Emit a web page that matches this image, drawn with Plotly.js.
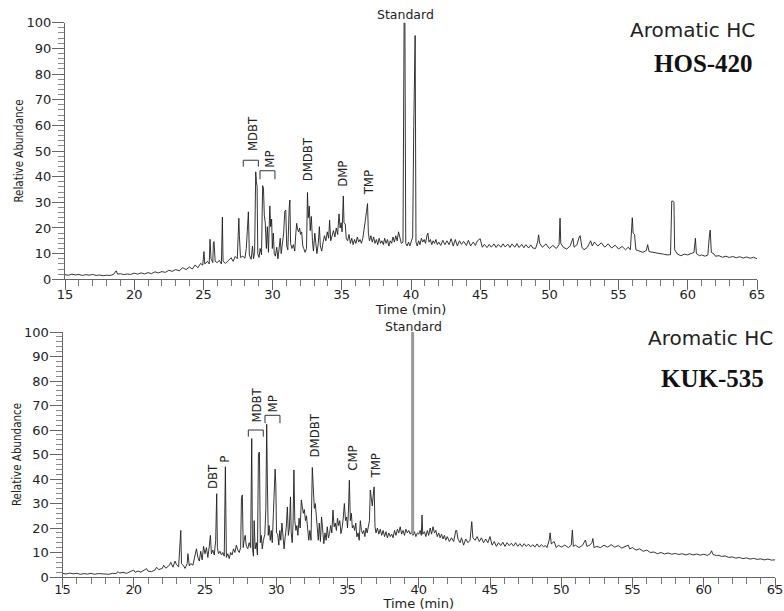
<!DOCTYPE html>
<html><head><meta charset="utf-8">
<script src="https://cdn.plot.ly/plotly-3.0.1.min.js"></script>
<style>html,body{margin:0;padding:0;background:#fff}#chart{width:784px;height:611px}</style>
</head><body><div id="chart"></div>
<script>
// ---------- DATA ----------
// Top chromatogram (HOS-420): [time (min), relative abundance]
const chromTop = [
[15.0,1.8],[15.25,1.6],[15.5,2.0],[15.75,1.7],[16.0,1.9],[16.25,1.5],[16.5,1.8],[16.75,1.6],[17.0,1.9],[17.25,1.5],
[17.5,1.7],[17.75,1.4],[18.0,1.6],[18.25,1.5],[18.5,1.9],[18.7,3.3],[18.8,2.0],[19.0,2.2],[19.25,1.8],[19.5,2.1],
[19.75,1.9],[20.0,2.4],[20.25,2.0],[20.5,2.5],[20.75,2.1],[21.0,2.6],[21.25,2.2],[21.5,2.9],[21.75,2.5],[22.0,3.0],
[22.25,2.7],[22.5,3.5],[22.75,3.1],[23.0,3.8],[23.25,3.3],[23.5,4.5],[23.75,3.8],[24.0,4.8],[24.2,4.0],[24.4,5.6],
[24.6,4.5],[24.8,6.2],[24.95,5.5],[25.04,10.8],[25.1,6.0],[25.3,7.0],[25.42,6.0],[25.48,15.6],[25.55,8],[25.68,6.5],
[25.72,14.2],[25.77,14.7],[25.85,7.0],[26.0,6.5],[26.15,7.4],[26.3,6.0],[26.37,24.2],[26.42,7.0],[26.6,6.2],[26.8,7.5],
[27.0,8.4],[27.15,7.0],[27.3,8.9],[27.45,8.0],[27.56,23.8],[27.6,17],[27.68,8.5],[27.85,9.0],[28.0,8.2],[28.1,12.0],
[28.18,20],[28.25,26.3],[28.32,9.5],[28.45,7.8],[28.55,13],[28.62,8.0],[28.7,10.5],[28.78,41.9],[28.83,38],[28.88,36],
[28.93,10],[29.02,8.5],[29.1,12],[29.2,9.5],[29.28,36.5],[29.34,35.5],[29.4,25],[29.47,22],[29.55,12],[29.62,20.5],
[29.7,10.5],[29.8,28.6],[29.86,20.5],[29.93,23.5],[29.98,12],[30.05,18],[30.12,10],[30.2,9],[30.3,12.5],[30.38,8],
[30.45,11],[30.55,16],[30.62,10],[30.7,13],[30.8,18],[30.88,26.5],[30.95,27.0],[31.02,13],[31.1,11.5],[31.2,28],
[31.25,30.9],[31.3,14],[31.4,12],[31.5,13.5],[31.6,11],[31.68,18],[31.74,21.8],[31.8,19.5],[31.88,18.5],[31.95,20],
[32.02,17.5],[32.1,18.5],[32.18,13],[32.25,12],[32.35,10.5],[32.45,12],[32.52,33.8],[32.58,24],[32.65,28.5],[32.72,19],
[32.8,24.5],[32.88,15],[32.95,11],[33.05,18],[33.12,12.5],[33.2,10],[33.3,14],[33.38,20.5],[33.45,13],[33.55,11],
[33.65,14.5],[33.75,17],[33.85,15],[33.95,18.5],[34.05,16],[34.12,23],[34.2,15],[34.3,17.5],[34.4,19],[34.5,16.5],
[34.6,20],[34.7,17.5],[34.8,25.5],[34.88,20],[34.95,22],[35.02,18.5],[35.11,32.5],[35.16,22],[35.25,21.5],[35.32,16],
[35.42,15],[35.52,17.5],[35.62,14],[35.72,16],[35.82,13.5],[35.92,15.5],[36.02,14],[36.12,16.5],[36.22,14.5],[36.32,15.5],
[36.42,14],[36.52,16],[36.62,19],[36.7,23],[36.78,26.3],[36.86,29.5],[36.92,18],[37.0,15],[37.1,17],[37.2,14.5],
[37.3,16.5],[37.4,14],[37.5,15.5],[37.6,13.5],[37.7,16],[37.8,14],[37.9,15],[38.0,13.5],[38.1,16],[38.2,14],
[38.3,15.5],[38.4,13],[38.5,15],[38.6,14],[38.7,16.5],[38.8,14.5],[38.9,17],[39.0,15],[39.1,18.5],[39.2,16],
[39.3,14],[39.42,14.5],[39.5,100],[39.56,100],[39.62,14],[39.72,13],[39.82,14.5],[39.92,13],[40.02,15],[40.12,16.5],
[40.2,60],[40.25,95],[40.3,95],[40.36,14.5],[40.45,13],[40.55,15],[40.65,13.5],[40.75,16],[40.85,14.5],[40.95,15.5],
[41.05,14],[41.15,17],[41.22,18],[41.3,14.5],[41.4,15.5],[41.5,13.5],[41.6,15],[41.7,14],[41.8,15.5],[41.9,13.5],
[42.0,14.5],[42.15,13.2],[42.3,15.2],[42.45,13.5],[42.6,15],[42.75,13.5],[42.9,15.8],[43.05,13],[43.2,15.5],[43.35,13],
[43.5,15],[43.65,13.6],[43.8,14.8],[44.0,13.2],[44.15,15.2],[44.3,13],[44.5,14.5],[44.65,13.2],[44.8,15],[45.0,15.8],
[45.15,12.5],[45.3,13.6],[45.5,12.4],[45.65,13.6],[45.8,12.5],[46.0,13.8],[46.15,12.4],[46.3,13.6],[46.5,12.5],[46.65,13.8],
[46.8,12.6],[47.0,13.7],[47.15,12.4],[47.3,13.8],[47.5,12.5],[47.65,13.9],[47.8,12.4],[48.0,13.6],[48.15,12.3],[48.3,13.5],
[48.5,12.2],[48.65,13.4],[48.8,12.2],[49.0,12.0],[49.15,14.5],[49.22,17.3],[49.3,14.0],[49.5,12.5],[49.75,13.8],[50.0,12.0],
[50.25,13.2],[50.5,12.0],[50.7,13.5],[50.77,23.8],[50.82,14],[51.0,12.5],[51.25,11.8],[51.5,13],[51.7,16],[51.78,12.5],
[52.0,13.5],[52.15,16.5],[52.22,17],[52.35,12.5],[52.5,11.5],[52.75,12.5],[52.98,15],[53.1,13],[53.25,14.5],[53.5,13],
[53.75,14.2],[54.0,12.5],[54.25,13.8],[54.5,12.2],[54.75,13.3],[55.0,11.8],[55.25,12.8],[55.5,11.5],[55.7,12.5],[55.85,11.5],
[55.99,24],[56.05,18],[56.15,17.5],[56.25,11.5],[56.5,11.0],[56.75,10.5],[57.0,11.2],[57.1,13.5],[57.2,10.8],[57.5,10.6],
[57.75,10.2],[58.0,10.0],[58.25,9.8],[58.5,9.5],[58.75,9.6],[58.84,30.5],[58.92,30.5],[59.0,30],[59.05,11.5],[59.25,9.8],
[59.5,9.2],[59.75,9.8],[60.0,9.5],[60.25,10],[60.45,10.5],[60.55,16],[60.62,10],[60.85,9.2],[61.0,9.5],[61.25,9.0],
[61.45,9.5],[61.55,16.5],[61.62,19.2],[61.7,10.5],[61.9,9.8],[62.0,9.0],[62.25,9.2],[62.5,8.6],[62.75,9.0],[63.0,8.5],
[63.25,8.9],[63.5,8.4],[63.75,8.8],[64.0,8.3],[64.25,8.7],[64.5,8.2],[64.75,8.6],[65.0,8.0]
];

// Bottom chromatogram (KUK-535): [time (min), relative abundance]
const chromBot = [
[15.0,1.5],[15.25,1.2],[15.5,1.6],[15.75,1.3],[16.0,1.5],[16.25,1.1],[16.5,1.4],[16.75,1.2],[17.0,1.5],[17.25,1.1],
[17.5,1.4],[17.75,1.2],[18.0,1.3],[18.25,1.1],[18.5,1.5],[18.75,1.4],[18.9,2.2],[19.0,1.6],[19.25,1.9],[19.5,1.5],
[19.75,2.2],[20.0,2.8],[20.1,1.9],[20.3,2.4],[20.5,2.0],[20.75,2.8],[20.9,3.4],[21.0,2.4],[21.25,2.2],[21.5,2.9],
[21.6,4.0],[21.75,3.0],[22.0,3.5],[22.1,4.8],[22.25,3.6],[22.5,4.8],[22.6,6.0],[22.75,4.0],[22.9,6.5],[23.0,5.0],
[23.15,4.2],[23.3,19],[23.35,5.5],[23.5,4.5],[23.6,3.5],[23.75,5.5],[23.8,9.5],[23.9,4.5],[24.0,5.5],[24.15,4.8],
[24.3,8.5],[24.4,11.5],[24.5,8.0],[24.6,6.5],[24.7,10.5],[24.8,7.0],[24.9,12.5],[25.0,9.5],[25.1,12.0],[25.2,8.0],
[25.3,12.5],[25.38,17],[25.45,9.5],[25.55,11],[25.65,9],[25.75,15],[25.82,34],[25.87,12],[25.95,9.5],[26.05,10.5],
[26.15,9],[26.25,10],[26.35,8.5],[26.43,45],[26.5,8],[26.6,9.5],[26.7,7.5],[26.8,10],[26.9,9],[27.0,11.5],
[27.1,10],[27.2,13],[27.3,11],[27.4,10],[27.5,12],[27.56,32.5],[27.62,33.5],[27.68,12],[27.75,15],[27.82,17],
[27.9,12.5],[28.0,11.5],[28.1,14],[28.2,12],[28.28,56.5],[28.33,12],[28.4,8.5],[28.45,23],[28.52,11.5],[28.6,14],
[28.68,9],[28.75,50.5],[28.82,51],[28.88,14],[28.95,17],[29.02,11.5],[29.1,15],[29.2,17.5],[29.27,28],[29.33,62.3],
[29.38,38],[29.44,17],[29.5,21],[29.58,15],[29.65,19],[29.72,14],[29.8,26],[29.87,41],[29.92,44],[29.97,37.5],
[30.02,18],[30.1,17.5],[30.18,13],[30.25,19],[30.32,15],[30.4,22],[30.48,14],[30.55,11.5],[30.62,16],[30.7,20],
[30.78,28.6],[30.85,17],[30.92,20],[31.0,32.7],[31.05,18],[31.12,14],[31.18,22],[31.24,43.7],[31.3,23],[31.38,19],
[31.45,21],[31.52,17],[31.6,24],[31.68,20],[31.76,31.4],[31.82,29],[31.9,26],[31.97,27.5],[32.05,23],[32.12,25],
[32.2,18],[32.28,15],[32.36,19],[32.44,15],[32.53,44.7],[32.6,36.8],[32.67,28],[32.74,30],[32.8,26],[32.88,19],
[32.95,15],[33.02,22],[33.1,14.5],[33.18,24.5],[33.26,17],[33.34,13.6],[33.42,18],[33.5,15],[33.58,20.5],[33.66,16],
[33.74,17.7],[33.82,21],[33.9,18],[33.98,27.3],[34.06,20.5],[34.14,22],[34.22,19],[34.3,24],[34.38,21],[34.46,23],
[34.54,17.7],[34.62,20],[34.7,24],[34.78,30],[34.86,23],[34.94,24.5],[35.0,20],[35.06,26],[35.13,39.5],[35.2,23],
[35.27,26],[35.34,20],[35.42,21],[35.5,19],[35.58,22],[35.66,16.4],[35.74,18],[35.82,15],[35.9,23],[35.98,19],
[36.06,17.7],[36.14,19],[36.22,16.5],[36.3,20],[36.38,18],[36.46,20],[36.54,23],[36.6,35.5],[36.68,31.4],[36.74,29],
[36.8,33],[36.87,36.8],[36.93,20.5],[37.0,18],[37.1,20],[37.2,17.5],[37.3,19.5],[37.4,17],[37.5,19],[37.6,16.5],
[37.7,18.5],[37.8,16],[37.9,18],[38.0,16.5],[38.1,17.5],[38.2,16],[38.3,19],[38.4,17],[38.5,19.5],[38.6,18],
[38.7,20.5],[38.8,17.5],[38.9,19],[39.0,17],[39.1,19.5],[39.2,18],[39.3,19],[39.4,17.5],[39.5,18.5],[39.6,17],
[39.7,18.5],[39.8,16.5],[39.9,18],[40.0,17.5],[40.1,19],[40.18,17],[40.23,25.3],[40.28,17.5],[40.4,18.5],[40.5,16.5],
[40.6,19],[40.7,17],[40.8,20],[40.9,17.5],[41.0,20.5],[41.1,18],[41.2,19],[41.3,16.5],[41.4,18],[41.5,16],
[41.6,17.5],[41.7,15.5],[41.8,17],[41.9,15],[42.0,16.5],[42.15,14.5],[42.3,16],[42.45,14.5],[42.6,19],[42.66,19],
[42.75,15.5],[42.9,14],[43.0,16],[43.15,13],[43.3,15.5],[43.45,14],[43.6,15],[43.72,22.6],[43.8,16],[43.95,15],
[44.1,16.5],[44.25,14.5],[44.4,16],[44.55,14],[44.7,15.5],[44.85,14],[45.0,16.5],[45.15,13],[45.3,14.5],[45.45,12.5],
[45.6,14],[45.75,12.8],[45.9,14.2],[46.05,12.5],[46.2,14],[46.35,12.8],[46.5,13.8],[46.65,12.6],[46.8,14],[46.95,12.5],
[47.1,13.6],[47.25,12.4],[47.4,13.6],[47.55,12.5],[47.7,13.4],[47.85,12.3],[48.0,13.2],[48.15,12.2],[48.3,13.5],[48.45,12.2],
[48.6,13.2],[48.75,12.4],[48.9,12.8],[49.0,12.0],[49.15,15],[49.22,18],[49.3,13.5],[49.5,14.5],[49.65,12.0],[49.8,13],
[50.0,12.2],[50.25,13],[50.5,12],[50.7,13],[50.78,19.2],[50.85,12.5],[51.0,13],[51.25,12],[51.5,13],[51.7,15.1],
[51.8,12.5],[52.0,13],[52.15,14],[52.22,15.7],[52.3,12],[52.5,12.5],[52.75,12],[53.0,13],[53.25,12.2],[53.5,13.2],
[53.75,12.2],[54.0,12.8],[54.25,11.8],[54.5,12.5],[54.7,13],[54.8,11.5],[55.0,12],[55.25,11],[55.5,11.5],[55.75,10.5],
[56.0,11],[56.25,10],[56.5,10.2],[56.75,9.5],[57.0,10],[57.25,9.4],[57.5,9.8],[57.75,9.3],[58.0,9.6],[58.25,9.2],
[58.5,9.5],[58.75,9.0],[59.0,9.5],[59.25,9.0],[59.5,9.4],[59.75,8.9],[60.0,9.3],[60.25,8.8],[60.45,9.5],[60.55,10.7],
[60.65,9.2],[60.9,8.7],[61.0,8.9],[61.25,8.4],[61.5,8.6],[61.75,8.0],[62.0,8.2],[62.25,7.7],[62.5,8.0],[62.75,7.5],
[63.0,7.8],[63.25,7.3],[63.5,7.6],[63.75,7.2],[64.0,7.4],[64.25,7.0],[64.5,7.3],[64.75,6.9],[65.0,7.0]
];

// Internal standard peak of bottom run (drawn as a grey bar)
const stdBotTime = [39.57, 39.57];
const stdBotAbund = [17.5, 100];

// Peak labels
const topLabels = ['MDBT', 'MP', 'DMDBT', 'DMP', 'TMP'];
const topLabelTime = [28.55, 29.81, 32.52, 35.06, 36.9];
const topLabelAbund = [49.6, 43.3, 38.0, 35.5, 32.2];
const botLabels = ['DBT', 'P', 'MDBT', 'MP', 'DMDBT', 'CMP', 'TMP'];
const botLabelTime = [25.53, 26.4, 28.63, 29.74, 32.65, 35.35, 36.93];
const botLabelAbund = [35.5, 46.4, 62.7, 66.8, 48.4, 43.0, 39.6];

// Brackets: [t start, t end, top abundance, leg-end abundance]
const topBrackets = [[27.88, 28.97, 46.4, 43.9], [29.09, 30.17, 42.3, 39.0]];
const botBrackets = [[28.04, 29.09, 60.0, 57.3], [29.21, 30.26, 66.0, 62.8]];

const stdLabel = 'Standard';
const xTickVals = [15, 20, 25, 30, 35, 40, 45, 50, 55, 60, 65];
const yTickVals = [0, 10, 20, 30, 40, 50, 60, 70, 80, 90, 100];

// ---------- LAYOUT HELPERS ----------
const W = 784, H = 611;
const xdom = (a, b) => [a / W, b / W];
const ydom = (top, bottom) => [1 - bottom / H, 1 - top / H];
const px = (x) => x / W;
const py = (y) => 1 - y / H;

const tickFont = {family: 'DejaVu Sans, Arial, sans-serif', size: 13, color: '#222'};
const narrowFont = {family: 'DejaVu Sans Condensed, Arial Narrow, sans-serif', size: 13, color: '#222'};
const titleYFont = {family: 'DejaVu Sans Condensed, Arial Narrow, sans-serif', size: 11.5, color: '#222'};

function xAxis(dom, anchor, lblOff) {
  return {
    domain: dom, anchor: anchor, range: [15, 65], tickvals: xTickVals,
    showgrid: false, zeroline: false, showline: true, linecolor: '#666', linewidth: 1,
    ticks: 'outside', ticklen: 10, tickcolor: '#666', tickfont: tickFont, ticklabelstandoff: lblOff,
    minor: {dtick: 1, ticks: 'outside', ticklen: 6, tickcolor: '#777', showgrid: false},
    title: {text: 'Time (min)', font: tickFont, standoff: 0}
  };
}
function yAxis(dom, anchor) {
  return {
    domain: dom, anchor: anchor, range: [0, 100], tickvals: yTickVals,
    showgrid: false, zeroline: false, showline: true, linecolor: '#666', linewidth: 1,
    ticks: 'outside', ticklen: 12, tickcolor: '#666', tickfont: tickFont, ticklabelstandoff: -2,
    minor: {dtick: 2, ticks: 'outside', ticklen: 6, tickcolor: '#888', showgrid: false},
    title: {text: 'Relative Abundance', font: titleYFont, standoff: 0}
  };
}

const traces = [
  {x: chromTop.map(p => p[0]), y: chromTop.map(p => p[1]), xaxis: 'x', yaxis: 'y',
   type: 'scatter', mode: 'lines', line: {color: '#1e1e1e', width: 0.9}, hoverinfo: 'skip'},
  {x: chromBot.map(p => p[0]), y: chromBot.map(p => p[1]), xaxis: 'x2', yaxis: 'y2',
   type: 'scatter', mode: 'lines', line: {color: '#1e1e1e', width: 0.9}, hoverinfo: 'skip'},
  {x: stdBotTime, y: stdBotAbund, xaxis: 'x2', yaxis: 'y2',
   type: 'scatter', mode: 'lines', line: {color: '#9a9a9a', width: 3}, hoverinfo: 'skip'}
];

const annotations = [];
topLabels.forEach((t, i) => annotations.push({text: t, x: topLabelTime[i], y: topLabelAbund[i], xref: 'x', yref: 'y',
  textangle: -90, xanchor: 'center', yanchor: 'bottom', showarrow: false, font: narrowFont, borderpad: 0}));
botLabels.forEach((t, i) => annotations.push({text: t, x: botLabelTime[i], y: botLabelAbund[i], xref: 'x2', yref: 'y2',
  textangle: -90, xanchor: 'center', yanchor: 'bottom', showarrow: false, font: narrowFont, borderpad: 0}));
const stdFont = {family: 'DejaVu Sans, Arial, sans-serif', size: 12.5, color: '#222'};
annotations.push({text: stdLabel, x: px(405), y: py(15), xref: 'paper', yref: 'paper', showarrow: false,
  xanchor: 'center', yanchor: 'middle', font: stdFont});
annotations.push({text: stdLabel, x: px(413), y: py(326), xref: 'paper', yref: 'paper', showarrow: false,
  xanchor: 'center', yanchor: 'middle', font: stdFont});
const bigSans = {family: 'DejaVu Sans, Arial, sans-serif', size: 20, color: '#222'};
const bigSerif = {family: 'Liberation Serif, Times New Roman, serif', size: 25, color: '#111', weight: 'bold'};
annotations.push({text: 'Aromatic HC', x: px(757), y: py(29.6), xref: 'paper', yref: 'paper', showarrow: false, xanchor: 'right', yanchor: 'middle', font: bigSans});
annotations.push({text: '<b>HOS-420</b>', x: px(755), y: py(63), xref: 'paper', yref: 'paper', showarrow: false, xanchor: 'right', yanchor: 'middle', font: bigSerif});
annotations.push({text: 'Aromatic HC', x: px(775), y: py(338), xref: 'paper', yref: 'paper', showarrow: false, xanchor: 'right', yanchor: 'middle', font: bigSans});
annotations.push({text: '<b>KUK-535</b>', x: px(766), y: py(378), xref: 'paper', yref: 'paper', showarrow: false, xanchor: 'right', yanchor: 'middle', font: bigSerif});

const shapes = [];
function bracket(b, xr, yr) {
  return {type: 'path', xref: xr, yref: yr,
    path: 'M ' + b[0] + ',' + b[3] + ' L ' + b[0] + ',' + b[2] + ' L ' + b[1] + ',' + b[2] + ' L ' + b[1] + ',' + b[3],
    line: {color: '#333', width: 1}};
}
topBrackets.forEach(b => shapes.push(bracket(b, 'x', 'y')));
botBrackets.forEach(b => shapes.push(bracket(b, 'x2', 'y2')));

const layout = {
  width: W, height: H, margin: {l: 0, r: 0, t: 0, b: 0},
  paper_bgcolor: '#fff', plot_bgcolor: '#fff', showlegend: false,
  xaxis: xAxis(xdom(65, 757), 'y', -7),
  yaxis: yAxis(ydom(22.7, 279.3), 'x'),
  xaxis2: xAxis(xdom(62.5, 775), 'y2', -10),
  yaxis2: yAxis(ydom(332, 577), 'x2'),
  annotations: annotations, shapes: shapes
};

Plotly.newPlot('chart', traces, layout, {staticPlot: true, displayModeBar: false});
</script>
</body></html>
